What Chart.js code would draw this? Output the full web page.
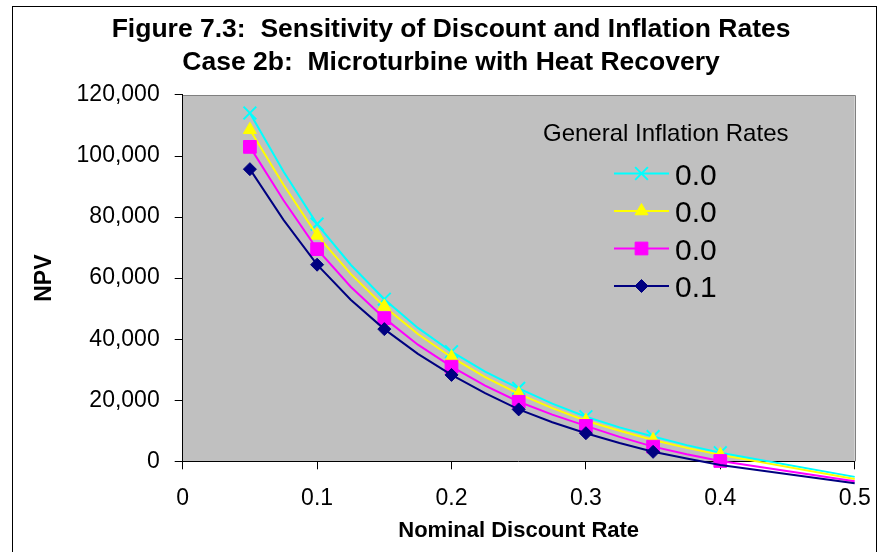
<!DOCTYPE html>
<html><head><meta charset="utf-8">
<script src="https://cdn.jsdelivr.net/npm/chart.js@4.4.1/dist/chart.umd.min.js"></script>
<style>html,body{margin:0;padding:0;background:#fff}#wrap{width:880px;height:552px;position:relative}canvas{display:block}</style>
</head><body><div id="wrap"><canvas id="c" width="880" height="552"></canvas></div>
<script>
// ---- data ----
const titleLines = ['Figure 7.3:  Sensitivity of Discount and Inflation Rates', 'Case 2b:  Microturbine with Heat Recovery'];
const xAxisTitle = 'Nominal Discount Rate';
const yAxisTitle = 'NPV';
const legendTitle = 'General Inflation Rates';
const seriesLabels = ['0.0', '0.0', '0.0', '0.1'];
const discountRates = [0.05, 0.075, 0.1, 0.125, 0.15, 0.175, 0.2, 0.225, 0.25, 0.275, 0.3, 0.325, 0.35, 0.375, 0.4, 0.5];
const npvSeries1 = [114100, 94900, 77700, 64400, 53100, 43700, 35900, 29400, 23900, 18900, 14600, 11100, 8100, 5300, 2800, -5100];
const npvSeries2 = [108600, 90600, 74000, 61400, 50700, 41700, 34100, 27600, 22100, 17400, 13300, 10000, 7000, 4400, 2100, -5800];
const npvSeries3 = [103000, 85500, 69500, 57200, 46900, 38200, 31000, 24800, 19500, 15300, 11600, 8000, 4800, 2300, 100, -6500];
const npvSeries4 = [95700, 79100, 64400, 52900, 43300, 35200, 28300, 22300, 17000, 12800, 9200, 6000, 3100, 900, -1200, -7200];
const xTickValues = [0, 0.1, 0.2, 0.3, 0.4, 0.5];
const yTickValues = [0, 20000, 40000, 60000, 80000, 100000, 120000];

// ---- styles ----
const FONT = "'Liberation Sans', Arial, Helvetica, sans-serif";
const seriesValues = [npvSeries1, npvSeries2, npvSeries3, npvSeries4];
const styles = [
  {color: '#00FFFF', pointStyle: 'crossRot', radius: 9, bw: 2, order: 4},
  {color: '#FFFF00', pointStyle: 'triangle', radius: 7.5, bw: 1, order: 3},
  {color: '#FF00FF', pointStyle: 'rect', radius: 9, bw: 1, order: 2},
  {color: '#000080', pointStyle: 'rectRot', radius: 6.5, bw: 1, order: 1}
];
function isMarker(x) { const k = x * 20; return Math.abs(k - Math.round(k)) < 1e-6 && x <= 0.4 + 1e-9; }

const framePlugin = {
  id: 'frame',
  beforeDraw(chart) {
    const ctx = chart.ctx, a = chart.chartArea;
    ctx.save();
    ctx.fillStyle = '#FFFFFF';
    ctx.fillRect(0, 0, chart.width, chart.height);
    ctx.strokeStyle = '#000000';
    ctx.lineWidth = 1;
    ctx.strokeRect(12.5, 6.5, 864, 600);
    ctx.fillStyle = '#C0C0C0';
    ctx.fillRect(a.left, a.top, a.right - a.left, a.bottom - a.top);
    ctx.strokeStyle = '#808080';
    ctx.beginPath();
    ctx.moveTo(a.left, Math.round(a.top) + 0.5);
    ctx.lineTo(Math.round(a.right) + 0.5, Math.round(a.top) + 0.5);
    ctx.lineTo(Math.round(a.right) + 0.5, a.bottom);
    ctx.stroke();
    ctx.restore();
  }
};

function drawMarker(ctx, st, x, y) {
  ctx.fillStyle = st.color;
  ctx.strokeStyle = st.color;
  ctx.lineWidth = st.bw;
  if (Chart.helpers && Chart.helpers.drawPoint) {
    Chart.helpers.drawPoint(ctx, {pointStyle: st.pointStyle, radius: st.radius, borderWidth: st.bw, rotation: 0}, x, y);
  }
}

const legendPlugin = {
  id: 'customLegend',
  afterDatasetsDraw(chart) {
    const ctx = chart.ctx;
    ctx.save();
    ctx.fillStyle = '#000';
    ctx.font = '24px ' + FONT;
    ctx.textAlign = 'left';
    ctx.textBaseline = 'alphabetic';
    ctx.fillText(legendTitle, 543, 141);
    chart.data.datasets.forEach((ds, i) => {
      const st = styles[i];
      const y = 173.5 + i * 37.5;
      ctx.strokeStyle = st.color;
      ctx.lineWidth = 2;
      ctx.beginPath();
      ctx.moveTo(614, y);
      ctx.lineTo(669, y);
      ctx.stroke();
      drawMarker(ctx, st, 641.5, y);
      ctx.fillStyle = '#000';
      ctx.font = '30px ' + FONT;
      ctx.textBaseline = 'alphabetic';
      ctx.fillText(ds.label, 675, y + 11);
    });
    ctx.restore();
  }
};

const datasets = seriesValues.map((vals, i) => ({
  label: seriesLabels[i],
  data: discountRates.map((x, j) => ({x: x, y: vals[j]})),
  borderColor: styles[i].color,
  backgroundColor: styles[i].color,
  borderWidth: 2,
  tension: 0,
  clip: false,
  order: styles[i].order,
  pointStyle: styles[i].pointStyle,
  pointRadius: c => (c.raw && isMarker(c.raw.x) && c.raw.y >= 0) ? styles[i].radius : 0,
  pointBorderWidth: styles[i].bw,
  pointBackgroundColor: styles[i].color,
  pointBorderColor: styles[i].color
}));

new Chart(document.getElementById('c'), {
  type: 'line',
  data: {datasets: datasets},
  options: {
    responsive: false,
    animation: false,
    events: [],
    layout: {padding: {left: 47.4, right: 25.3, top: 0, bottom: 0}},
    plugins: {
      legend: {display: false},
      tooltip: {enabled: false},
      title: {
        display: true, text: titleLines, color: '#000',
        font: {family: FONT, size: 26.5, weight: 'bold', lineHeight: 1.26},
        padding: {top: 12.9, bottom: 15.3}
      }
    },
    scales: {
      x: {
        type: 'linear', min: 0, max: 0.5,
        afterBuildTicks: s => { s.ticks = xTickValues.map(v => ({value: v})); },
        afterFit: s => { s.height = 90.7; s.paddingLeft = 0; s.paddingRight = 0; },
        ticks: {color: '#000', font: {family: FONT, size: 23}, padding: 15.5, maxRotation: 0, autoSkip: false, callback: v => String(v)},
        grid: {display: true, drawOnChartArea: false, drawTicks: true, tickLength: 8, color: '#000', lineWidth: 1},
        border: {display: true, color: '#000', width: 1},
        title: {display: true, text: xAxisTitle, color: '#000', font: {family: FONT, size: 22, weight: 'bold', lineHeight: 1.2}, padding: {top: 0, bottom: 7.4}}
      },
      y: {
        type: 'linear', min: 0, max: 120000,
        afterBuildTicks: s => { s.ticks = yTickValues.map(v => ({value: v})); },
        afterFit: s => { s.width = 135.3; },
        ticks: {color: '#000', font: {family: FONT, size: 23}, padding: 15, autoSkip: false, callback: v => Number(v).toLocaleString('en-US')},
        grid: {display: true, drawOnChartArea: false, drawTicks: true, tickLength: 8, color: '#000', lineWidth: 1},
        border: {display: true, color: '#000', width: 1},
        title: {display: true, text: yAxisTitle, color: '#000', font: {family: FONT, size: 23, weight: 'bold', lineHeight: 1.2}, padding: {top: -16.5, bottom: 0}}
      }
    }
  },
  plugins: [framePlugin, legendPlugin]
});
</script>
</body></html>
